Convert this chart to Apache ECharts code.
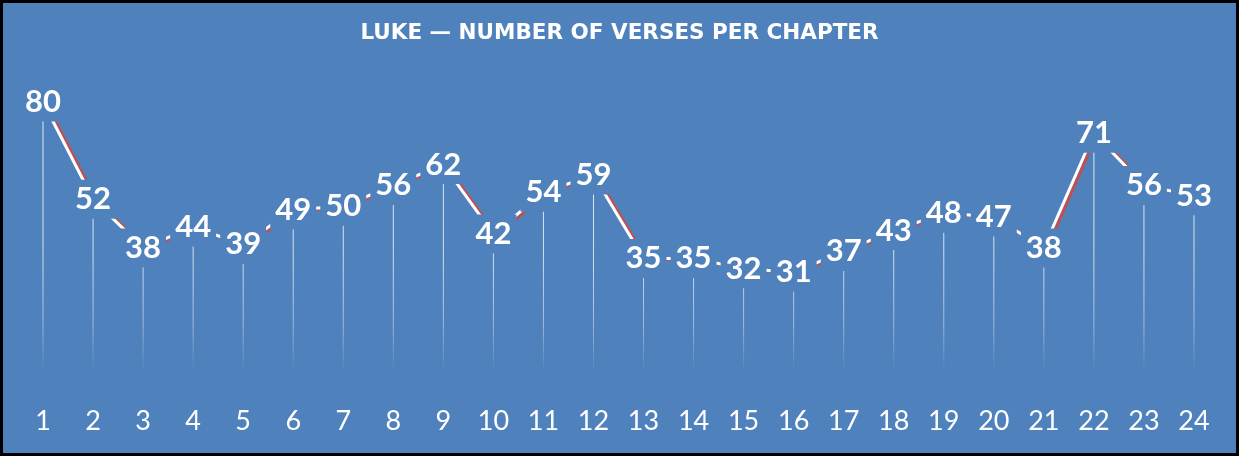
<!DOCTYPE html>
<html>
<head>
<meta charset="utf-8">
<script src="https://cdn.jsdelivr.net/npm/echarts@6/dist/echarts.min.js"></script>
<style>
html,body{margin:0;padding:0;background:#4f81bd;}
#c{width:1239px;height:456px;}
</style>
</head>
<body>
<div id="c"></div>
<script>
var titleText = 'LUKE — NUMBER OF VERSES PER CHAPTER';
var chapters = ['1','2','3','4','5','6','7','8','9','10','11','12','13','14','15','16','17','18','19','20','21','22','23','24'];
var verses = [80,52,38,44,39,49,50,56,62,42,54,59,35,35,32,31,37,43,48,47,38,71,56,53];

var BG = '#4f81bd';
var chart = echarts.init(document.getElementById('c'), null, {renderer: 'canvas'});
chart.setOption({
  animation: false,
  backgroundColor: BG,
  title: {
    text: titleText,
    left: 'center',
    top: 17,
    textStyle: {color: '#ffffff', fontFamily: 'DejaVu Sans', fontWeight: 'bold', fontSize: 21.5}
  },
  grid: {left: 18, right: 20, top: 102, bottom: 76},
  xAxis: {
    type: 'category',
    data: chapters,
    boundaryGap: true,
    axisLine: {show: false},
    axisTick: {show: false},
    splitLine: {show: false},
    axisLabel: {color: '#ffffff', fontFamily: 'Lato', fontSize: 27, margin: 28}
  },
  yAxis: {
    type: 'value', min: 0, max: 80, show: false,
    splitLine: {show: false}
  },
  series: [
    {
      type: 'bar',
      data: verses,
      barWidth: 1,
      z: 1,
      silent: true,
      itemStyle: {
        color: {
          type: 'linear', global: true, x: 0, y: 100, x2: 0, y2: 380,
          colorStops: [
            {offset: 0, color: 'rgba(255,255,255,0.85)'},
            {offset: 0.55, color: 'rgba(255,255,255,0.75)'},
            {offset: 0.8, color: 'rgba(255,255,255,0.45)'},
            {offset: 0.97, color: 'rgba(255,255,255,0)'}
          ]
        }
      }
    },
    {
      type: 'line',
      data: verses,
      z: 3,
      symbol: 'circle',
      symbolSize: 0,
      itemStyle: {color: 'rgba(0,0,0,0)'},
      lineStyle: {
        color: '#ffffff', width: 3,
        shadowColor: '#c0504d', shadowBlur: 0, shadowOffsetX: 3, shadowOffsetY: 1
      },
      label: {
        show: true,
        position: 'inside',
        color: '#ffffff',
        fontFamily: 'Lato',
        fontWeight: 'bold',
        fontSize: 31,
        backgroundColor: BG,
        padding: [4, 5, 4, 5]
      }
    }
  ],
  graphic: [{
    type: 'rect',
    z: 100,
    shape: {x: 0, y: 0, width: 1239, height: 456},
    style: {fill: 'none', stroke: '#000000', lineWidth: 6}
  }]
});
</script>
</body>
</html>
